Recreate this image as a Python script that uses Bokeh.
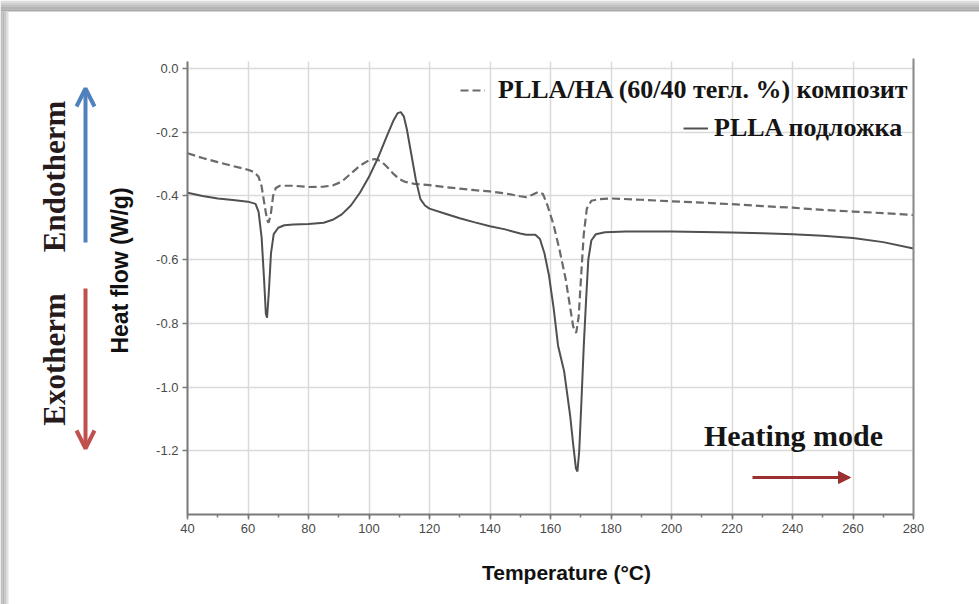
import math
from bokeh.plotting import figure
from bokeh.models import (Range1d, LinearAxis, SingleIntervalTicker, FixedTicker, Label, Arrow,
                          OpenHead, NormalHead, Legend, LegendItem, BoxAnnotation,
                          NumeralTickFormatter, Grid)
from bokeh.embed import file_html
from bokeh.resources import INLINE

# ---------------- data ----------------
temp_composite = [40, 45, 50, 55, 60, 62, 63.5, 64.5, 65.5, 66.3, 66.8, 67.5, 68.3, 69.2,
                  70.5, 75, 80, 85, 88, 91, 94, 97, 100, 102, 104, 106, 108, 110, 112,
                  115, 120, 125, 130, 135, 140, 145, 150, 152, 154, 156, 157.5, 159, 161,
                  163, 165, 166.5, 167.5, 168.5, 169.3, 170.2, 171, 172, 173.5, 176, 180,
                  190, 200, 210, 220, 230, 240, 250, 260, 270, 280]
heat_composite = [-0.266, -0.281, -0.294, -0.306, -0.318, -0.325, -0.34, -0.37, -0.43, -0.475,
                  -0.484, -0.46, -0.40, -0.375, -0.368, -0.368, -0.372, -0.371, -0.367, -0.355,
                  -0.33, -0.305, -0.288, -0.284, -0.291, -0.309, -0.33, -0.347, -0.356,
                  -0.362, -0.366, -0.372, -0.377, -0.382, -0.386, -0.392, -0.401, -0.404,
                  -0.396, -0.387, -0.394, -0.43, -0.49, -0.57, -0.66, -0.75, -0.81, -0.83,
                  -0.78, -0.64, -0.52, -0.44, -0.415, -0.41, -0.408, -0.412, -0.417, -0.421,
                  -0.426, -0.432, -0.437, -0.444, -0.449, -0.454, -0.46]

temp_plla = [40, 45, 50, 55, 60, 62.5, 63.5, 64.5, 65.3, 65.9, 66.3, 66.9, 67.6, 68.5, 70,
             72, 75, 80, 85, 88, 91, 94, 97, 100, 103, 106, 108, 109.5, 110.5, 111.5, 112.5,
             114, 115.5, 117, 118.5, 120, 125, 130, 135, 140, 145, 150, 152, 155, 156.5, 158,
             159.5, 161, 162.5, 163.5, 164.5, 165.5, 166.5, 167.5, 168.4, 168.9, 169.5,
             170.2, 171, 171.8, 172.5, 173.5, 175, 178, 185, 200, 210, 220, 230, 240, 250,
             260, 270, 280]
heat_plla = [-0.39, -0.40, -0.408, -0.413, -0.418, -0.425, -0.45, -0.53, -0.66, -0.77, -0.782,
             -0.70, -0.58, -0.52, -0.50, -0.492, -0.49, -0.488, -0.484, -0.475, -0.458, -0.43,
             -0.39, -0.34, -0.28, -0.21, -0.165, -0.14, -0.137, -0.15, -0.19, -0.27, -0.35,
             -0.41, -0.43, -0.44, -0.455, -0.47, -0.483, -0.495, -0.505, -0.518, -0.522,
             -0.522, -0.535, -0.58, -0.65, -0.75, -0.87, -0.91, -0.95, -1.02, -1.09, -1.18,
             -1.255, -1.265, -1.20, -1.05, -0.87, -0.72, -0.60, -0.54, -0.52, -0.514, -0.512,
             -0.512, -0.513, -0.515, -0.517, -0.52, -0.525, -0.532, -0.545, -0.565]

x_limits = [40, 280]          # temperature axis
y_limits = [-1.4, 0.0]        # heat-flow axis (ticks)
y_top = 0.022                 # top of plotting box

label_composite = "PLLA/HA (60/40 тегл. %) композит"
label_plla = "PLLA подложка"
x_title = "Temperature (°C)"
y_title = "Heat flow (W/g)"
endo_text = "Endotherm"
exo_text = "Exotherm"
heat_text = "Heating mode"

SANS = "Liberation Sans"
SERIF = "Liberation Serif"

# ---------------- layout geometry (canvas pixels) ----------------
W, H = 979, 604
PX_X0, PX_X1 = 187, 913        # canvas x of 40 and 280
PX_Y0, PX_Y1 = 68, 514         # canvas y of 0.0 and -1.4
kx = (PX_X1 - PX_X0) / (x_limits[1] - x_limits[0])
ky = (PX_Y1 - PX_Y0) / (y_limits[1] - y_limits[0])


def cx(X):
    return x_limits[0] + (X - PX_X0) / kx


def cy(Y):
    return y_limits[1] - (Y - PX_Y0) / ky


# the frame covers the whole page, the axes are pinned to the data box
p = figure(width=W, height=H, output_backend="svg", toolbar_location=None,
           x_range=Range1d(cx(0), cx(W)), y_range=Range1d(cy(H), cy(0)),
           min_border=0)
p.outline_line_color = None
p.background_fill_color = "white"
p.border_fill_color = "white"
p.title.visible = False

xt = SingleIntervalTicker(interval=20, num_minor_ticks=2)
yt = SingleIntervalTicker(interval=0.2, num_minor_ticks=0)
xa = p.xaxis[0]
ya = p.yaxis[0]
xa.ticker = xt
ya.ticker = yt
ya.formatter = NumeralTickFormatter(format="0.0")
xa.fixed_location = y_limits[0]
ya.fixed_location = x_limits[0]
xa.bounds = (x_limits[0], x_limits[1])
ya.bounds = (y_limits[0], y_top)

for ax in (xa, ya):
    ax.axis_line_color = "#7a7a7a"
    ax.axis_line_width = 2
    ax.major_tick_line_color = "#7a7a7a"
    ax.major_tick_line_width = 1.5
    ax.major_tick_in = 0
    ax.major_tick_out = 5
    ax.minor_tick_line_color = "#7a7a7a"
    ax.minor_tick_line_width = 1.5
    ax.minor_tick_in = 0
    ax.minor_tick_out = 3
    ax.major_label_text_font = SANS
    ax.major_label_text_font_size = "13px"
    ax.major_label_text_color = "#4a4a4a"
    ax.major_label_standoff = 4
ya.minor_tick_line_color = None

right_ax = LinearAxis(ticker=FixedTicker(ticks=[]), axis_line_color="#8a8a8a",
                      axis_line_width=2, major_tick_line_color=None,
                      minor_tick_line_color=None, fixed_location=x_limits[1],
                      bounds=(y_limits[0], y_top + 0.01))
p.add_layout(right_ax, "right")

grid_color = "#dadada"
xg, yg = p.xgrid[0], p.ygrid[0]
xg.ticker = xt
yg.ticker = yt
if "cross_bounds" in Grid.properties():
    xg.bounds = (x_limits[0], x_limits[1])
    xg.cross_bounds = (y_limits[0], y_top)
    yg.bounds = (y_limits[0], y_limits[1])
    yg.cross_bounds = (x_limits[0], x_limits[1])
    for g in (xg, yg):
        g.grid_line_color = grid_color
        g.grid_line_width = 1.5
else:
    xg.visible = False
    yg.visible = False
    gx = list(range(x_limits[0] + 20, x_limits[1], 20))
    gy = [round(-0.2 * i, 1) for i in range(0, 7)]
    p.segment(x0=gx, x1=gx, y0=[y_limits[0]] * len(gx), y1=[y_top] * len(gx),
              line_color=grid_color, line_width=1.5, level="underlay")
    p.segment(x0=[x_limits[0]] * len(gy), x1=[x_limits[1]] * len(gy), y0=gy, y1=gy,
              line_color=grid_color, line_width=1.5, level="underlay")

# ---------------- curves ----------------
r_comp = p.line(temp_composite, heat_composite, line_color="#6a6a6a", line_width=2.2,
                line_dash="8 4")
r_plla = p.line(temp_plla, heat_plla, line_color="#505050", line_width=2)


# ---------------- legends ----------------
def make_legend(item_label, renderer, X, Ybottom, standoff):
    return Legend(items=[LegendItem(label=item_label, renderers=[renderer])],
                  location=(X, H - Ybottom), border_line_color=None,
                  background_fill_alpha=0, padding=0, margin=0, spacing=0,
                  glyph_width=25, glyph_height=20, label_standoff=standoff,
                  label_height=20, label_text_font=SERIF, label_text_font_style="bold",
                  label_text_font_size="26px", label_text_color="#151515")


p.add_layout(make_legend(label_composite, r_comp, 460, 105, 13))
p.add_layout(make_legend(label_plla, r_plla, 683, 143, 6))


# ---------------- texts ----------------
def add_text(text, X, Y, size, font, color="#151515", angle=0.0, style="bold"):
    p.add_layout(Label(x=cx(X), y=cy(Y), text=text, angle=angle, text_align="center",
                       text_baseline="middle", text_font=font, text_font_style=style,
                       text_font_size=size, text_color=color))


add_text(x_title, 566, 572, "21px", SANS, "#111111")
add_text(y_title, 119, 270, "23px", SANS, "#111111", angle=math.pi / 2)
add_text(endo_text, 54, 176, "31px", SERIF, "#261a1c", angle=math.pi / 2)
add_text(exo_text, 54, 359, "31px", SERIF, "#261a1c", angle=math.pi / 2)
add_text(heat_text, 793, 435, "30px", SERIF)

# ---------------- arrows ----------------
blue = "#4f81bd"
red = "#c0504d"
dred = "#9c2f2f"
p.add_layout(Arrow(end=OpenHead(size=18, line_color=blue, line_width=4),
                   x_start=cx(85), y_start=cy(242), x_end=cx(85), y_end=cy(88),
                   line_color=blue, line_width=4))
p.add_layout(Arrow(end=OpenHead(size=18, line_color=red, line_width=4),
                   x_start=cx(85), y_start=cy(288), x_end=cx(85), y_end=cy(448),
                   line_color=red, line_width=4))
p.add_layout(Arrow(end=NormalHead(size=12, fill_color=dred, line_color=dred),
                   x_start=cx(752), y_start=cy(477), x_end=cx(850), y_end=cy(477),
                   line_color=dred, line_width=3))

# ---------------- picture frame shadow (decoration) ----------------
top_shades = ["#dcdcdc", "#cfcfcf", "#c2c2c2", "#b5b5b5", "#a9a9a9"]
for i, c in enumerate(top_shades):
    p.add_layout(BoxAnnotation(left=cx(0), right=cx(W), top=cy(2.2 * i),
                               bottom=cy(2.2 * (i + 1)), fill_color=c, fill_alpha=1,
                               line_color=None))
left_shades = ["#bdbdbd", "#b3b3b3", "#c4c4c4", "#dedede"]
for i, c in enumerate(left_shades):
    p.add_layout(BoxAnnotation(left=cx(2 * i), right=cx(2 * (i + 1)), top=cy(11),
                               bottom=cy(H), fill_color=c, fill_alpha=1, line_color=None))

open("out.html", "w").write(file_html(p, INLINE))
